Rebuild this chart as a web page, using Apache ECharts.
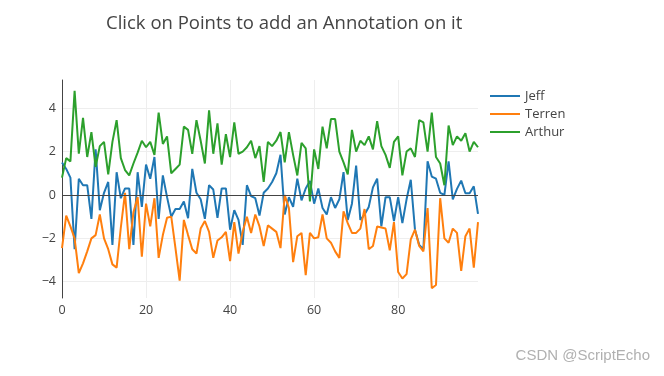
<!DOCTYPE html>
<html>
<head>
<meta charset="utf-8">
<script src="https://cdn.jsdelivr.net/npm/echarts@6/dist/echarts.min.js"></script>
<style>
  html, body { margin: 0; padding: 0; background: #fff; }
  #chart { width: 664px; height: 376px; }
</style>
</head>
<body>
<div id="chart"></div>
<script>
// values, x = 0..99
const jeff = [
  1.5, 1.2, 0.8, -2.5, 0.75, 0.45, 0.45, -1.1, 2.1, -0.7,
  0.1, 0.6, -2.3, 1.05, -0.15, 0.3, 0.3, -2.3, 1.05, -0.55,
  1.4, 0.75, 1.75, -1.1, 0.9, -0.1, -1.0, -0.65, -0.65, -0.3,
  -1.07, 1.2, 0.1, -0.2, -1.1, 0.45, 0.25, -1.05, 0.3, 0.3,
  -1.6, -0.7, -1.15, -2.3, 0.45, -0.05, -0.15, -0.95, 0.1, 0.3,
  0.6, 1.0, 1.85, -0.9, -0.1, -0.55, 0.75, -0.25, 0.3, 0.65,
  -0.4, 0.3, -0.6, -0.9, -0.1, -0.6, -0.2, 1.05, -1.15, -0.4,
  1.35, -1.15, -0.9, -0.55, 0.35, 0.75, -1.45, -0.1, -0.1, -1.2,
  -0.1, -1.3, -0.2, 0.7, -1.6, -2.3, -2.5, 1.55, 0.85, 0.75,
  0.1, 0.0, 1.55, -0.2, 0.28, 0.66, 0.08, 0.08, 0.4, -0.87
]
const terren = [
  -2.45, -0.95, -1.45, -2.0, -3.6, -3.15, -2.6, -2.0, -1.85, -0.9,
  -2.0, -2.5, -3.2, -3.35, -1.5, 0.1, -2.5, -0.8, -0.1, -2.85,
  -0.4, -1.45, -0.15, -2.9, -1.85, -1.05, -1.0, -2.45, -3.95, -1.15,
  -1.85, -2.5, -2.7, -1.55, -1.2, -1.7, -2.9, -2.1, -1.95, -1.7,
  -3.05, -1.25, -2.7, -1.7, -1.0, -1.75, -0.9, -1.45, -2.35, -1.4,
  -1.55, -1.7, -2.45, 0.0, -0.6, -3.1, -1.9, -1.75, -3.7, -1.75,
  -2.0, -1.95, -0.9, -2.0, -2.2, -2.6, -2.9, -0.75, -1.3, -1.75,
  -1.75, -1.55, -0.65, -2.5, -2.35, -1.45, -1.5, -1.55, -2.55, -1.25,
  -3.55, -3.85, -3.65, -2.05, -1.6, -2.35, -2.6, -0.6, -4.3, -4.15,
  -0.15, -2.0, -2.2, -1.55, -1.75, -3.5, -1.9, -1.55, -3.35, -1.25
]
const arthur = [
  0.8, 1.7, 1.55, 4.8, 1.9, 3.55, 1.75, 2.9, 1.3, 2.25,
  2.45, 0.95, 2.45, 3.45, 1.7, 1.15, 0.9, 1.45, 1.95, 2.5,
  2.2, 2.45, 1.85, 3.8, 2.35, 2.7, 1.0, 1.2, 1.4, 3.15,
  3.0, 1.9, 3.45, 2.5, 1.45, 3.9, 1.9, 3.3, 1.4, 2.8,
  1.75, 3.35, 1.9, 2.0, 2.2, 2.5, 1.7, 2.25, 0.6, 2.45,
  2.25, 2.5, 2.9, 1.5, 2.9, 1.85, 0.9, 2.4, 2.15, -0.3,
  2.1, 1.2, 3.15, 2.15, 3.5, 3.5, 2.0, 1.5, 0.95, 3.0,
  2.0, 2.5, 2.3, 2.7, 2.1, 3.4, 2.25, 1.85, 1.25, 2.45,
  2.7, 0.9, 2.0, 2.15, 1.75, 3.45, 3.35, 2.0, 3.8, 1.75,
  1.45, 0.45, 3.2, 2.3, 2.7, 2.5, 2.85, 2.0, 2.45, 2.2
]
const seriesNames = ['Jeff', 'Terren', 'Arthur']
const colors = ['#1f77b4', '#ff7f0e', '#2ca02c']
const xTicks = [0, 20, 40, 60, 80]
const yTicks = [-4, -2, 0, 2, 4]

const font = '"Open Sans", verdana, arial, sans-serif'
const chart = echarts.init(document.getElementById('chart'))

function toPoints (arr) {
  return arr.map((v, i) => [i, v])
}

const lines = [jeff, terren, arthur].map((arr, k) => ({
  name: seriesNames[k],
  type: 'line',
  data: toPoints(arr),
  showSymbol: false,
  symbol: 'none',
  lineStyle: { width: 2, color: colors[k] },
  itemStyle: { color: colors[k] },
  z: 3
}))

// zero line, drawn under the traces
lines.push({
  type: 'line',
  data: [],
  silent: true,
  z: 1,
  markLine: {
    silent: true,
    symbol: 'none',
    label: { show: false },
    lineStyle: { color: '#444', width: 1, type: 'solid' },
    data: [{ yAxis: 0 }]
  }
})

chart.setOption({
  animation: false,
  textStyle: { fontFamily: font },
  title: {
    text: 'Click on Points to add an Annotation on it',
    left: 101,
    top: 9,
    textStyle: { fontFamily: font, fontSize: 18.5, fontWeight: 'normal', color: '#444' }
  },
  legend: {
    orient: 'vertical',
    left: 485,
    top: 84,
    icon: 'rect',
    itemWidth: 30,
    itemHeight: 2,
    itemGap: 4,
    data: seriesNames,
    textStyle: { fontFamily: font, fontSize: 13, color: '#444', lineHeight: 14 }
  },
  grid: { left: 62, right: 186, top: 80, bottom: 78 },
  xAxis: {
    type: 'value',
    min: 0,
    max: 99,
    axisLine: { show: false },
    axisTick: { show: false, customValues: xTicks },
    axisLabel: { color: '#444', fontSize: 12.5, fontFamily: font, margin: 6, customValues: xTicks },
    splitLine: { show: true, lineStyle: { color: '#eee', width: 1 } }
  },
  yAxis: {
    type: 'value',
    min: -4.75,
    max: 5.3,
    axisLine: { show: true, onZero: false, lineStyle: { color: '#444', width: 1 } },
    axisTick: { show: false, customValues: yTicks },
    axisLabel: {
      color: '#444', fontSize: 12.5, fontFamily: font, margin: 6,
      customValues: yTicks,
      formatter: v => (v < 0 ? '\u2212' + Math.abs(v) : String(v))
    },
    splitLine: { show: true, lineStyle: { color: '#eee', width: 1 } }
  },
  graphic: [{
    type: 'text',
    right: 14,
    top: 348,
    style: { text: 'CSDN @ScriptEcho', fill: '#b0b0b0', font: '15px "Liberation Sans", Arial, sans-serif' }
  }],
  series: lines
})
</script>
</body>
</html>
